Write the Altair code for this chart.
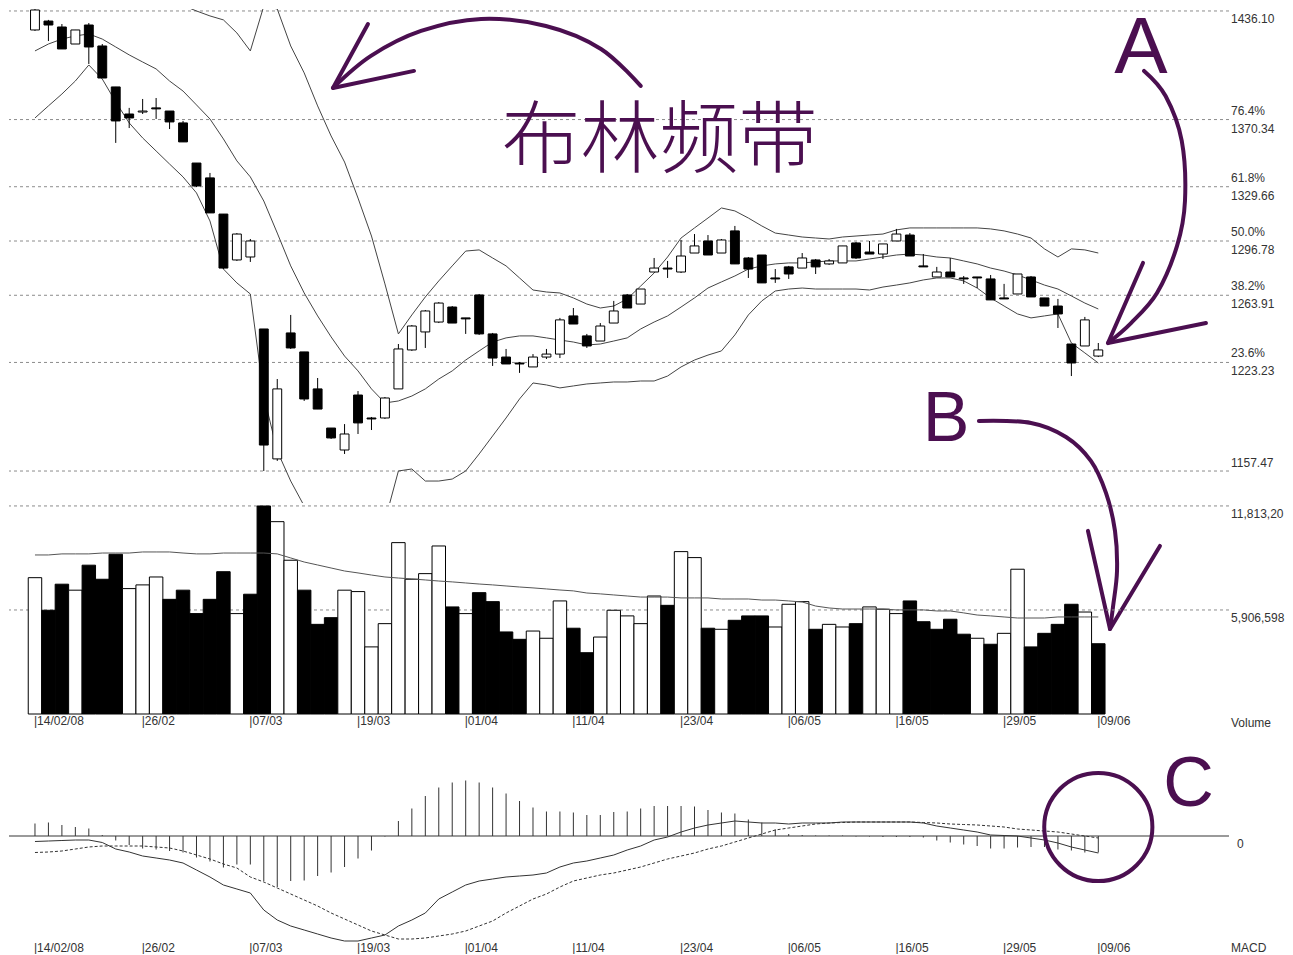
import altair as alt
import pandas as pd

# ---------------- data ----------------
tick_idx = [0, 8, 16, 24, 32, 40, 48, 56, 64, 72, 79]
tick_labels = ["14/02/08", "26/02", "07/03", "19/03", "01/04", "11/04",
               "23/04", "06/05", "16/05", "29/05", "09/06"]

opens = [1424.6, 1430.0, 1426.4, 1416.1, 1427.6, 1414.9, 1390.1, 1373.7, 1374.9, 1377.4,
         1375.5, 1368.3, 1344.0, 1335.0, 1313.1, 1285.3, 1287.1, 1243.5, 1164.8, 1241.1,
         1229.6, 1207.2, 1183.5, 1170.2, 1203.5, 1189.6, 1189.6, 1207.2, 1230.8, 1241.7,
         1247.7, 1256.8, 1250.2, 1264.1, 1240.5, 1226.5, 1222.9, 1220.5, 1226.5, 1228.3,
         1251.4, 1239.3, 1236.2, 1247.1, 1264.1, 1258.6, 1278.0, 1280.4, 1278.0, 1289.5,
         1296.8, 1289.5, 1302.9, 1286.5, 1288.3, 1274.4, 1281.1, 1280.4, 1285.3, 1282.9,
         1283.5, 1295.6, 1290.1, 1288.9, 1296.8, 1300.4, 1281.7, 1275.0, 1278.0, 1274.4,
         1275.0, 1273.8, 1262.3, 1264.7, 1275.0, 1262.3, 1257.4, 1234.4, 1233.2, 1227.1]
closes = [1436.7, 1427.6, 1413.1, 1424.6, 1414.3, 1395.5, 1369.5, 1371.3, 1375.5, 1376.8,
          1368.9, 1356.8, 1330.1, 1313.8, 1280.4, 1301.0, 1296.8, 1173.2, 1207.2, 1232.0,
          1201.1, 1195.0, 1177.5, 1179.9, 1186.6, 1189.0, 1201.7, 1231.4, 1245.3, 1254.4,
          1259.2, 1247.1, 1249.6, 1240.5, 1225.9, 1222.3, 1222.3, 1226.5, 1228.3, 1249.0,
          1246.5, 1233.2, 1245.3, 1254.4, 1256.2, 1267.7, 1280.4, 1279.8, 1287.7, 1293.8,
          1288.3, 1297.4, 1282.9, 1279.8, 1271.4, 1273.8, 1276.8, 1286.5, 1281.1, 1284.7,
          1293.8, 1286.5, 1288.9, 1295.0, 1301.0, 1287.7, 1281.1, 1278.0, 1275.0, 1273.8,
          1274.4, 1261.1, 1261.7, 1276.8, 1262.9, 1257.4, 1252.6, 1222.9, 1249.0, 1230.8]
highs = [1437.3, 1430.7, 1428.2, 1424.6, 1428.8, 1416.1, 1390.1, 1377.4, 1382.8, 1383.4,
         1375.5, 1369.5, 1344.0, 1338.0, 1313.1, 1301.6, 1298.0, 1243.5, 1213.2, 1252.0,
         1229.6, 1213.8, 1183.5, 1185.9, 1205.9, 1190.2, 1202.3, 1234.4, 1245.9, 1255.0,
         1259.8, 1257.4, 1250.2, 1264.7, 1241.1, 1231.4, 1223.5, 1228.3, 1231.4, 1250.2,
         1256.2, 1240.5, 1247.1, 1260.5, 1264.7, 1267.7, 1286.5, 1284.7, 1297.4, 1301.0,
         1300.4, 1298.0, 1305.9, 1287.1, 1288.3, 1279.8, 1281.7, 1289.5, 1285.9, 1285.9,
         1293.8, 1296.2, 1296.8, 1295.0, 1304.1, 1301.6, 1288.9, 1281.1, 1286.5, 1275.6,
         1275.0, 1276.2, 1270.8, 1276.8, 1275.6, 1262.3, 1261.7, 1234.4, 1250.8, 1235.0]
lows = [1424.0, 1417.9, 1413.1, 1416.1, 1404.0, 1395.5, 1356.2, 1365.2, 1373.7, 1370.7,
        1364.6, 1356.8, 1329.5, 1313.8, 1279.8, 1284.7, 1284.1, 1157.5, 1163.6, 1231.4,
        1199.9, 1195.0, 1176.9, 1167.8, 1179.9, 1182.3, 1189.0, 1207.2, 1230.2, 1232.0,
        1247.1, 1247.1, 1240.5, 1239.9, 1221.1, 1222.3, 1216.9, 1220.5, 1225.3, 1225.9,
        1246.5, 1232.0, 1236.2, 1247.1, 1256.2, 1258.6, 1278.0, 1274.4, 1277.4, 1289.5,
        1288.3, 1289.5, 1282.9, 1274.4, 1271.4, 1271.4, 1273.8, 1280.4, 1276.8, 1282.3,
        1283.5, 1285.9, 1288.9, 1285.9, 1296.8, 1287.7, 1281.1, 1275.0, 1275.0, 1270.8,
        1268.3, 1261.1, 1261.7, 1264.7, 1262.9, 1257.4, 1244.1, 1215.0, 1233.2, 1226.5]

bb_upper = [1454.3, 1451.2, 1448.2, 1444.6, 1439.7, 1442.2, 1445.2, 1447.0, 1448.2, 1447.0,
            1442.8, 1439.4, 1436.1, 1433.1, 1430.7, 1422.8, 1411.9, 1439.1, 1437.3, 1414.9,
            1398.6, 1378.6, 1360.4, 1344.6, 1322.8, 1299.8, 1270.8, 1240.5, 1252.0, 1262.9,
            1272.6, 1281.7, 1290.7, 1291.4, 1286.5, 1281.7, 1274.4, 1267.1, 1265.9, 1265.3,
            1262.3, 1258.6, 1256.2, 1257.4, 1261.7, 1269.5, 1277.4, 1287.1, 1298.6, 1304.7,
            1310.7, 1316.8, 1315.0, 1310.7, 1305.9, 1301.6, 1300.4, 1299.2, 1298.6, 1298.0,
            1299.2, 1299.8, 1300.4, 1301.0, 1303.5, 1304.7, 1304.7, 1304.7, 1304.7, 1304.7,
            1304.7, 1304.1, 1302.9, 1301.0, 1298.6, 1292.0, 1287.1, 1292.0, 1291.4, 1289.5]
bb_mid = [1411.9, 1416.1, 1419.1, 1421.0, 1422.2, 1419.1, 1414.3, 1409.5, 1405.2, 1401.0,
          1393.7, 1387.6, 1379.2, 1370.7, 1358.6, 1345.3, 1335.6, 1321.0, 1301.6, 1281.7,
          1265.3, 1251.4, 1238.7, 1227.1, 1218.1, 1207.2, 1198.7, 1199.9, 1202.9, 1207.2,
          1213.2, 1218.1, 1224.7, 1230.2, 1235.6, 1238.1, 1239.3, 1239.3, 1238.1, 1236.8,
          1235.6, 1233.8, 1234.4, 1236.2, 1238.1, 1243.5, 1247.7, 1251.4, 1256.8, 1262.3,
          1268.3, 1272.0, 1275.6, 1279.8, 1281.7, 1282.9, 1283.5, 1283.5, 1284.1, 1284.7,
          1284.7, 1284.7, 1285.9, 1287.1, 1288.3, 1288.9, 1288.3, 1287.1, 1286.5, 1284.7,
          1282.9, 1280.4, 1278.6, 1276.2, 1273.2, 1270.1, 1267.7, 1263.5, 1259.2, 1255.6]
bb_lower = [1371.3, 1378.6, 1385.8, 1393.7, 1403.4, 1394.9, 1381.0, 1368.3, 1359.2, 1351.3,
            1343.4, 1335.6, 1325.9, 1308.9, 1279.8, 1271.4, 1264.7, 1202.9, 1169.6, 1151.4,
            1136.3, 1124.2, 1115.1, 1109.0, 1109.0, 1112.1, 1127.2, 1157.5, 1158.7, 1151.4,
            1151.4, 1152.6, 1157.5, 1167.8, 1178.7, 1189.6, 1201.1, 1210.8, 1209.6, 1207.8,
            1209.0, 1210.2, 1210.8, 1211.4, 1211.4, 1212.0, 1212.0, 1215.0, 1220.5, 1224.7,
            1227.7, 1230.2, 1239.9, 1252.0, 1260.5, 1266.5, 1267.7, 1268.3, 1267.7, 1267.7,
            1267.7, 1267.7, 1267.1, 1268.9, 1270.1, 1271.4, 1273.2, 1274.4, 1274.4, 1272.6,
            1268.3, 1262.3, 1257.4, 1252.6, 1250.2, 1251.4, 1252.6, 1235.0, 1229.0, 1222.9]

fib_levels = [1436.10, 1370.34, 1329.66, 1296.78, 1263.91, 1223.23, 1157.47]
fib_pcts = ["", "76.4%", "61.8%", "50.0%", "38.2%", "23.6%", ""]

# volume in millions
volumes = [7.74, 5.89, 7.37, 7.03, 8.45, 7.65, 9.07, 7.12, 7.33, 7.78,
           6.51, 7.03, 5.70, 6.51, 8.08, 5.70, 6.80, 11.81, 10.92, 8.73,
           7.03, 5.09, 5.47, 7.03, 6.95, 3.81, 5.13, 9.73, 7.65, 7.97,
           9.54, 6.08, 5.70, 6.89, 6.38, 4.66, 4.24, 4.71, 4.30, 6.42,
           4.87, 3.48, 4.37, 5.89, 5.57, 5.13, 6.70, 6.17, 9.22, 8.88,
           4.87, 4.81, 5.32, 5.57, 5.57, 4.94, 6.23, 6.38, 4.81, 5.09,
           4.94, 5.13, 6.08, 5.95, 5.70, 6.42, 5.24, 4.81, 5.38, 4.53,
           4.30, 3.96, 4.58, 8.22, 3.81, 4.58, 5.09, 6.23, 5.79, 3.99]
vol_dir = list("WBBWBBBWWW" "BBBBBWBBWW" "BBBWWWWWWW" "WBWBBBBWWW"
               "BBWWWWWBWW" "BWBBBWWWBW" "WBWWWBBBBB" "WBWWBBBBWB")
vol_ma = [9.03, 9.03, 9.09, 9.09, 9.09, 9.14, 9.14, 9.14, 9.20, 9.20,
          9.20, 9.14, 9.09, 9.09, 9.14, 9.14, 9.14, 9.14, 9.09, 8.86,
          8.63, 8.46, 8.29, 8.12, 8.01, 7.89, 7.78, 7.72, 7.67, 7.61,
          7.55, 7.50, 7.44, 7.38, 7.33, 7.27, 7.21, 7.16, 7.10, 7.04,
          6.99, 6.87, 6.82, 6.76, 6.70, 6.64, 6.64, 6.64, 6.59, 6.59,
          6.59, 6.53, 6.53, 6.53, 6.47, 6.47, 6.42, 6.36, 6.13, 6.02,
          5.96, 5.96, 5.96, 5.96, 5.91, 5.91, 5.91, 5.85, 5.85, 5.74,
          5.62, 5.57, 5.51, 5.45, 5.45, 5.45, 5.51, 5.51, 5.51, 5.51]
vol_levels = [11.813196, 5.906598]
vol_level_labels = ["11,813,20", "5,906,598"]

macd = [-1.1, -1.0, -0.9, -0.8, -0.8, -1.3, -2.6, -3.2, -4.0, -4.4,
        -4.8, -5.4, -6.8, -8.2, -9.8, -10.6, -11.4, -14.8, -16.8, -18.0,
        -18.8, -19.6, -20.4, -21.0, -21.0, -20.4, -19.8, -18.0, -16.8, -15.4,
        -12.6, -11.2, -9.8, -9.0, -8.6, -8.2, -8.0, -7.8, -7.4, -6.2,
        -5.4, -5.0, -4.4, -3.8, -2.8, -2.0, -0.8, -0.2, 0.8, 1.6,
        2.2, 2.6, 3.0, 2.8, 2.6, 2.6, 2.4, 2.6, 2.6, 2.6,
        2.8, 2.8, 2.8, 2.8, 2.8, 2.8, 2.6, 2.0, 1.6, 1.2,
        0.8, 0.2, 0.1, 0.0, -0.4, -0.8, -1.4, -2.2, -2.8, -3.4]
signal = [-3.3, -3.2, -3.0, -2.6, -2.2, -2.0, -2.0, -2.0, -2.0, -2.2,
          -2.4, -3.0, -3.8, -4.6, -5.6, -6.4, -8.2, -9.2, -10.4, -11.6,
          -12.8, -14.0, -15.4, -16.6, -17.8, -19.0, -19.8, -20.6, -20.6, -20.4,
          -20.0, -19.6, -19.0, -18.0, -17.0, -15.4, -14.0, -12.6, -11.6, -10.2,
          -9.0, -8.4, -7.8, -7.4, -6.8, -6.2, -5.4, -4.6, -4.0, -3.4,
          -2.6, -2.0, -1.2, -0.4, 0.4, 1.2, 1.6, 2.0, 2.4, 2.6,
          2.7, 2.8, 2.8, 2.8, 2.8, 2.8, 2.7, 2.6, 2.4, 2.3,
          2.2, 2.0, 1.8, 1.4, 1.2, 1.0, 0.8, 0.4, 0.0, -0.4]
hist = [2.5, 2.7, 2.2, 1.8, 1.5, 0.2, -0.9, -1.8, -2.5, -2.7,
        -3.0, -3.3, -4.3, -5.1, -6.3, -5.7, -5.7, -9.0, -10.2, -9.0,
        -8.9, -8.0, -7.3, -6.2, -4.5, -2.9, -0.1, 3.0, 5.5, 8.0,
        9.7, 10.7, 11.1, 10.7, 9.7, 8.5, 7.0, 5.7, 4.9, 4.9,
        4.7, 4.2, 4.2, 4.8, 4.9, 5.5, 6.0, 6.0, 6.0, 5.9,
        5.2, 4.7, 4.5, 3.3, 2.7, 1.3, 0.4, 0.2, 0.1, 0.1,
        0.1, -0.1, -0.1, -0.2, -0.2, -0.2, -0.3, -0.9, -1.3, -1.7,
        -2.0, -2.5, -2.5, -2.3, -2.2, -2.2, -2.7, -2.9, -3.3, -3.3]

# annotation paths (bar index, price)
boll_arrow_i = [45.0, 42.05, 37.96, 33.14, 28.68, 24.96, 22.14]
boll_arrow_p = [1390.7, 1413.1, 1427.0, 1431.3, 1424.0, 1408.9, 1389.5]
boll_head_i = [24.74, 22.14, 28.16]
boll_head_p = [1428.2, 1389.5, 1399.8]
a_arrow_i = [82.4, 84.0, 85.2, 85.44, 84.85, 83.36, 81.43, 79.72]
a_arrow_p = [1399.8, 1384.6, 1357.4, 1321.0, 1293.8, 1265.3, 1247.1, 1235.0]
a_head_i = [82.32, 79.72, 87.0]
a_head_p = [1283.5, 1235.0, 1247.1]
b_arrow_i = [70.13, 74.0, 76.6, 78.45, 79.57, 80.24, 80.39, 80.1, 79.87]
b_arrow_p = [1187.8, 1186.6, 1178.1, 1163.6, 1144.2, 1121.2, 1096.9, 1075.7, 1061.8]
b_head_i = [78.23, 79.87, 83.58]
b_head_p = [1121.2, 1061.8, 1112.1]

# ---------------- styling / layout ----------------
FONT = "Liberation Sans Narrow, Liberation Sans, Arial, sans-serif"
LFS = 12
PURPLE = "#4b0f50"
W = 1220
H_PRICE, H_VOL, H_MACD = 494, 211, 227

xs = alt.Scale(domain=[-1.93, 88.71], nice=False, zero=False)
ps = alt.Scale(domain=[1138.1, 1437.3], nice=False, zero=False)
vs = alt.Scale(domain=[0, 11.98], nice=False, zero=False)
ms = alt.Scale(domain=[-21.0, 24.4], nice=False, zero=False)

n = len(opens)
idx = list(range(n))
ticks_df = pd.DataFrame({"i": tick_idx, "t": ["|" + s for s in tick_labels]})


def date_labels(h):
    return alt.Chart(ticks_df).mark_text(align="left", baseline="top", dx=-1, font=FONT,
                                         fontSize=LFS, color="#333").encode(
        x=alt.X("i:Q", scale=xs, axis=None), y=alt.value(h + 2), text="t:N")


# ---------------- price panel ----------------
candles = pd.DataFrame({"i": idx, "open": opens, "high": highs, "low": lows, "close": closes})
candles["up"] = candles["close"] >= candles["open"]
candles["x0"] = candles["i"] - 0.33
candles["x1"] = candles["i"] + 0.33

bands = pd.concat([
    pd.DataFrame({"i": idx, "v": bb_upper, "band": "upper"}),
    pd.DataFrame({"i": idx, "v": bb_mid, "band": "mid"}),
    pd.DataFrame({"i": idx, "v": bb_lower, "band": "lower"}),
])

fib_df = pd.DataFrame({"level": fib_levels, "pct": fib_pcts})
fib_df["label"] = [f"{p}\n{l:.2f}" if p else f"{l:.2f}" for p, l in zip(fib_pcts, fib_levels)]

fib_rules = alt.Chart(fib_df).mark_rule(color="#8c8c8c", strokeDash=[3, 3], strokeWidth=1).encode(
    y=alt.Y("level:Q", scale=ps, axis=None))
fib_two = alt.Chart(fib_df[fib_df["pct"] != ""]).mark_text(
    align="left", baseline="middle", lineBreak="\n", lineHeight=18, dy=-9, font=FONT,
    fontSize=LFS, color="#333").encode(
    x=alt.value(W + 2), y=alt.Y("level:Q", scale=ps, axis=None), text="label:N")
fib_top = alt.Chart(fib_df.iloc[[0]]).mark_text(
    align="left", baseline="middle", dy=8, font=FONT, fontSize=LFS, color="#333").encode(
    x=alt.value(W + 2), y=alt.Y("level:Q", scale=ps, axis=None), text="label:N")
fib_bot = alt.Chart(fib_df.iloc[[len(fib_df) - 1]]).mark_text(
    align="left", baseline="middle", dy=-8, font=FONT, fontSize=LFS, color="#333").encode(
    x=alt.value(W + 2), y=alt.Y("level:Q", scale=ps, axis=None), text="label:N")

band_lines = alt.Chart(bands).mark_line(color="#444", strokeWidth=1, clip=True).encode(
    x=alt.X("i:Q", scale=xs, axis=None), y=alt.Y("v:Q", scale=ps, axis=None), detail="band:N")
wicks = alt.Chart(candles).mark_rule(color="black", strokeWidth=1).encode(
    x=alt.X("i:Q", scale=xs, axis=None), y=alt.Y("low:Q", scale=ps, axis=None), y2="high:Q")
bodies = alt.Chart(candles).mark_bar(stroke="black", strokeWidth=1).encode(
    x=alt.X("x0:Q", scale=xs, axis=None), x2="x1:Q",
    y=alt.Y("open:Q", scale=ps, axis=None), y2="close:Q",
    fill=alt.condition("datum.up", alt.value("white"), alt.value("black")))


def path_df(name, xi, yp):
    return pd.DataFrame({"seg": name, "k": list(range(len(xi))), "i": xi, "p": yp})


shafts = pd.concat([path_df("boll", boll_arrow_i, boll_arrow_p),
                    path_df("a", a_arrow_i, a_arrow_p),
                    path_df("b", b_arrow_i, b_arrow_p)])
heads = pd.concat([path_df("boll", boll_head_i, boll_head_p),
                   path_df("a", a_head_i, a_head_p),
                   path_df("b", b_head_i, b_head_p)])

shaft_lines = alt.Chart(shafts).mark_line(color=PURPLE, strokeWidth=4, interpolate="cardinal",
                                          strokeCap="round").encode(
    x=alt.X("i:Q", scale=xs, axis=None), y=alt.Y("p:Q", scale=ps, axis=None),
    detail="seg:N", order="k:Q")
head_lines = alt.Chart(heads).mark_line(color=PURPLE, strokeWidth=4, strokeCap="round",
                                        strokeJoin="round").encode(
    x=alt.X("i:Q", scale=xs, axis=None), y=alt.Y("p:Q", scale=ps, axis=None),
    detail="seg:N", order="k:Q")

title_df = pd.DataFrame({"i": [46.4], "p": [1356.4], "t": ["布林频带"]})
boll_text = alt.Chart(title_df).mark_text(font="Noto Sans CJK SC", fontSize=79, fontWeight=300,
                                          color=PURPLE, align="center", baseline="middle").encode(
    x=alt.X("i:Q", scale=xs, axis=None), y=alt.Y("p:Q", scale=ps, axis=None), text="t:N")
letters_df = pd.DataFrame({"i": [82.17, 67.7], "p": [1398.5, 1175.6], "t": ["A", "B"]})
letter_a = alt.Chart(letters_df.iloc[[0]]).mark_text(font="Liberation Sans", fontSize=80,
                                                     color=PURPLE, align="center",
                                                     baseline="alphabetic").encode(
    x=alt.X("i:Q", scale=xs, axis=None), y=alt.Y("p:Q", scale=ps, axis=None), text="t:N")
letter_b = alt.Chart(letters_df.iloc[[1]]).mark_text(font="Liberation Sans", fontSize=70,
                                                     color=PURPLE, align="center",
                                                     baseline="alphabetic").encode(
    x=alt.X("i:Q", scale=xs, axis=None), y=alt.Y("p:Q", scale=ps, axis=None), text="t:N")

price = alt.layer(fib_rules, fib_two, fib_top, fib_bot, band_lines, wicks, bodies,
                  boll_text, letter_a, letter_b, shaft_lines, head_lines).properties(
    width=W, height=H_PRICE)

# ---------------- volume panel ----------------
vol = pd.DataFrame({"i": idx, "vol": volumes, "dir": vol_dir, "ma": vol_ma})
vol["x0"] = vol["i"] - 0.5
vol["x1"] = vol["i"] + 0.5
vol["zero"] = 0.0
vlev = pd.DataFrame({"level": vol_levels, "label": vol_level_labels})

vol_rules = alt.Chart(vlev).mark_rule(color="#8c8c8c", strokeDash=[3, 3], strokeWidth=1).encode(
    y=alt.Y("level:Q", scale=vs, axis=None))
vol_lab = alt.Chart(vlev).mark_text(align="left", baseline="middle", dy=8, font=FONT, fontSize=LFS,
                                    color="#333").encode(
    x=alt.value(W + 2), y=alt.Y("level:Q", scale=vs, axis=None), text="label:N")
vol_bars = alt.Chart(vol).mark_bar(stroke="black", strokeWidth=1).encode(
    x=alt.X("x0:Q", scale=xs, axis=None), x2="x1:Q",
    y=alt.Y("vol:Q", scale=vs, axis=None), y2="zero:Q",
    fill=alt.condition("datum.dir == 'W'", alt.value("white"), alt.value("black")))
vol_ma_line = alt.Chart(vol).mark_line(color="#555", strokeWidth=1).encode(
    x=alt.X("i:Q", scale=xs, axis=None), y=alt.Y("ma:Q", scale=vs, axis=None))
vol_name = alt.Chart(pd.DataFrame({"t": ["Volume"]})).mark_text(
    align="left", baseline="middle", font=FONT, fontSize=LFS, color="#333").encode(
    x=alt.value(W + 2), y=alt.value(H_VOL + 9), text="t:N")

volume = alt.layer(vol_rules, vol_lab, vol_bars, vol_ma_line, vol_name,
                   date_labels(H_VOL)).properties(width=W, height=H_VOL)

# ---------------- MACD panel ----------------
md = pd.DataFrame({"i": idx, "macd": macd, "signal": signal, "hist": hist})
md["zero"] = 0.0
zero_df = pd.DataFrame({"z": [0.0], "t": ["0"]})

zero_line = alt.Chart(zero_df).mark_rule(color="#9a9a9a", strokeWidth=2).encode(
    y=alt.Y("z:Q", scale=ms, axis=None))
zero_lab = alt.Chart(zero_df).mark_text(align="left", baseline="middle", dy=8, font=FONT,
                                        fontSize=LFS, color="#333").encode(
    x=alt.value(W + 8), y=alt.Y("z:Q", scale=ms, axis=None), text="t:N")
hist_rules = alt.Chart(md).mark_rule(color="#333", strokeWidth=1).encode(
    x=alt.X("i:Q", scale=xs, axis=None), y=alt.Y("hist:Q", scale=ms, axis=None), y2="zero:Q")
macd_line = alt.Chart(md).mark_line(color="#333", strokeWidth=1).encode(
    x=alt.X("i:Q", scale=xs, axis=None), y=alt.Y("macd:Q", scale=ms, axis=None))
sig_line = alt.Chart(md).mark_line(color="#333", strokeWidth=1, strokeDash=[3, 2]).encode(
    x=alt.X("i:Q", scale=xs, axis=None), y=alt.Y("signal:Q", scale=ms, axis=None))
macd_name = alt.Chart(pd.DataFrame({"t": ["MACD"]})).mark_text(
    align="left", baseline="top", font=FONT, fontSize=LFS, color="#333").encode(
    x=alt.value(W + 2), y=alt.value(H_MACD + 2), text="t:N")
circ_df = pd.DataFrame({"i": [79.0], "m": [1.8]})
circle = alt.Chart(circ_df).mark_point(shape="circle", size=11700, filled=False, strokeWidth=4,
                                       color=PURPLE, opacity=1).encode(
    x=alt.X("i:Q", scale=xs, axis=None), y=alt.Y("m:Q", scale=ms, axis=None))
letter_c = alt.Chart(pd.DataFrame({"i": [85.7], "m": [6.0], "t": ["C"]})).mark_text(
    font="Liberation Sans", fontSize=70, color=PURPLE, align="center",
    baseline="alphabetic").encode(
    x=alt.X("i:Q", scale=xs, axis=None), y=alt.Y("m:Q", scale=ms, axis=None), text="t:N")

macd_panel = alt.layer(zero_line, zero_lab, hist_rules, macd_line, sig_line, macd_name,
                       circle, letter_c, date_labels(H_MACD)).properties(width=W, height=H_MACD)

chart = alt.vconcat(price, volume, macd_panel, spacing=0, bounds="flush", padding=0,
                    background="white").resolve_scale(y="independent").configure_view(
    strokeWidth=0, stroke="transparent")

chart.save("out.html", embed_options={"renderer": "svg", "actions": False})
